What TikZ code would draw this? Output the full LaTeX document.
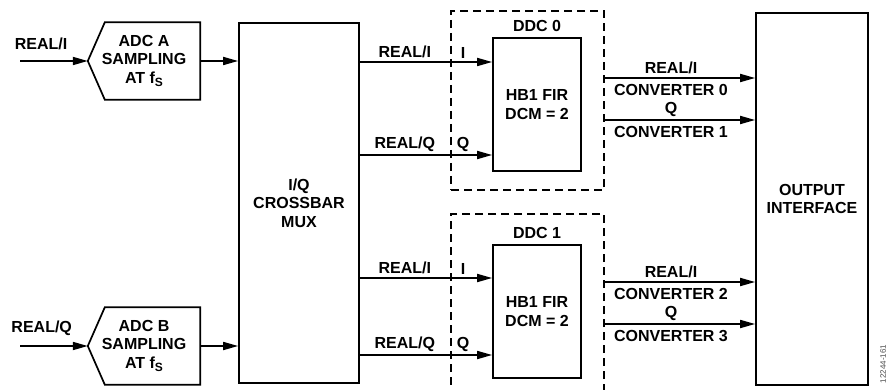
\documentclass[tikz,border=0pt]{standalone}
\usepackage{fontspec}
\setmainfont{Liberation Sans}
\usetikzlibrary{arrows.meta,positioning}

\tikzset{
  blk/.style={draw, line width=1.7pt, inner sep=0pt, align=center},
  adcbox/.style={inner sep=0pt, align=center, minimum width=112pt, minimum height=77pt},
  ddcbox/.style={draw, line width=1.7pt, dash pattern=on 8pt off 5pt, inner sep=0pt, minimum width=153pt},
  sig/.style={line width=1.7pt, -{Triangle[length=15pt,width=8pt]}},
  lbl/.style={inner sep=2pt},
}
\newcommand{\fsamp}{f\raisebox{-3.5pt}{\fontsize{12}{12}\selectfont S}}

\begin{document}
\begin{tikzpicture}[x=1pt,y=-1pt,font=\fontsize{16}{18.5}\selectfont\bfseries]
        \useasboundingbox (0,0) rectangle (893,390);

        % adc blocks
        \node[adcbox] (adcA) at (144,61) {ADC A\\SAMPLING\\AT \fsamp};
        \node[adcbox] (adcB) at (144,346) {ADC B\\SAMPLING\\AT \fsamp};
        \draw[line width=1.7pt] ([xshift=17pt]adcA.north west) -- (adcA.north east) -- (adcA.south east) -- ([xshift=17pt]adcA.south west) -- (adcA.west) -- cycle;
        \draw[line width=1.7pt] ([xshift=17pt]adcB.north west) -- (adcB.north east) -- (adcB.south east) -- ([xshift=17pt]adcB.south west) -- (adcB.west) -- cycle;

        % crossbar and output
        \node[blk, minimum width=120pt, minimum height=360pt] (mux) at (299,203) {I/Q\\CROSSBAR\\MUX};
        \node[blk, minimum width=112pt, minimum height=372pt] (out) at (812,199) {OUTPUT\\INTERFACE};

        % ddc blocks
        \node[ddcbox, minimum height=179pt] (ddc0) at (527.5,100.5) {};
        \node[ddcbox, minimum height=181pt] (ddc1) at (527.5,304.5) {};
        \node[blk, minimum width=88pt, minimum height=133pt] (fir0) at (537,104.5) {HB1 FIR\\DCM = 2};
        \node[blk, minimum width=88pt, minimum height=133pt] (fir1) at (537,311.5) {HB1 FIR\\DCM = 2};
        \node[lbl, above=3pt of fir0] (ddc0lbl) {DDC 0};
        \node[lbl, above=3pt of fir1] (ddc1lbl) {DDC 1};

        % inputs
        \coordinate (inA) at (20,61);\coordinate (inB) at (20,346);
        \draw[sig] (inA) -- (adcA.west) node[lbl, above=8pt, pos=0.31] (lblA) {REAL/I};
        \draw[sig] (inB) -- (adcB.west) node[lbl, above=8pt, pos=0.32] (lblB) {REAL/Q};
        \draw[sig] (adcA.east) -- (adcA.east -| mux.west);
        \draw[sig] (adcB.east) -- (adcB.east -| mux.west);

        % crossbar to ddc
        \coordinate (r0i) at (0,62);\coordinate (r0q) at (0,155);
        \coordinate (r1i) at (0,278);\coordinate (r1q) at (0,355);
        \draw[sig] (mux.east |- r0i) -- (fir0.west |- r0i) node[lbl, above=1pt, pos=0.34] {REAL/I} node[lbl, above=1pt, pos=0.78] {I};
        \draw[sig] (mux.east |- r0q) -- (fir0.west |- r0q) node[lbl, above=1pt, pos=0.34] {REAL/Q} node[lbl, above=1pt, pos=0.78] {Q};
        \draw[sig] (mux.east |- r1i) -- (fir1.west |- r1i) node[lbl, above=1pt, pos=0.34] {REAL/I} node[lbl, above=1pt, pos=0.78] {I};
        \draw[sig] (mux.east |- r1q) -- (fir1.west |- r1q) node[lbl, above=1pt, pos=0.34] {REAL/Q} node[lbl, above=1pt, pos=0.78] {Q};

        % ddc to output
        \coordinate (c0) at (0,78);\coordinate (c1) at (0,120);
        \coordinate (c2) at (0,282);\coordinate (c3) at (0,324);
        \draw[sig] (ddc0.east |- c0) -- (out.west |- c0) node[lbl, above=1pt, pos=0.44] {REAL/I} node[lbl, below=3pt, pos=0.44] {CONVERTER 0};
        \draw[sig] (ddc0.east |- c1) -- (out.west |- c1) node[lbl, above=1pt, pos=0.44] {Q} node[lbl, below=3pt, pos=0.44] {CONVERTER 1};
        \draw[sig] (ddc1.east |- c2) -- (out.west |- c2) node[lbl, above=1pt, pos=0.44] {REAL/I} node[lbl, below=3pt, pos=0.44] {CONVERTER 2};
        \draw[sig] (ddc1.east |- c3) -- (out.west |- c3) node[lbl, above=1pt, pos=0.44] {Q} node[lbl, below=3pt, pos=0.44] {CONVERTER 3};

        % figure number
        \node[rotate=90, font=\fontsize{8}{8}\selectfont, text=black!70] (figno) at (883,364) {12244-161};
\end{tikzpicture}
\end{document}
